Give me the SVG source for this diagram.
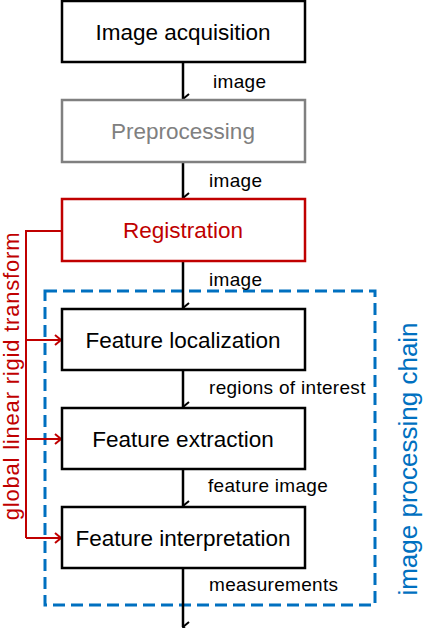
<svg xmlns="http://www.w3.org/2000/svg" width="424" height="628" viewBox="0 0 424 628">
<defs>
<style>
.box{fill:#fff;stroke-width:2.5}
.t{font-family:"Liberation Sans",Arial,sans-serif;font-size:22.5px;text-anchor:middle}
.l{font-family:"Liberation Sans",Arial,sans-serif;font-size:19px;letter-spacing:0.3px}
.k{stroke:#000;stroke-width:2.5;fill:none}
.r{stroke:#C00000;stroke-width:2;fill:none}
</style>
<marker id="ak" markerWidth="12" markerHeight="10" refX="6" refY="9" orient="auto" markerUnits="userSpaceOnUse" viewBox="0 0 12 10"><path d="M1,3 L6,9 L11,3" fill="none" stroke="#000" stroke-width="2"/></marker>
<marker id="ar" markerWidth="10" markerHeight="12" refX="9" refY="6" orient="auto" markerUnits="userSpaceOnUse" viewBox="0 0 10 12"><path d="M3,1 L9,6 L3,11" fill="none" stroke="#C00000" stroke-width="2"/></marker>
</defs>
<rect width="424" height="628" fill="#fff"/>
<g id="chain-frame"><rect x="45" y="291" width="330" height="314" fill="none" stroke="#0070C0" stroke-width="3" stroke-dasharray="12,6"/></g>
<g id="connectors">
<line class="k" x1="183" y1="62" x2="183" y2="99" marker-end="url(#ak)"/>
<line class="k" x1="183" y1="162" x2="183" y2="198" marker-end="url(#ak)"/>
<line class="k" x1="183" y1="261" x2="183" y2="308" marker-end="url(#ak)"/>
<line class="k" x1="183" y1="370" x2="183" y2="407" marker-end="url(#ak)"/>
<line class="k" x1="183" y1="469" x2="183" y2="506" marker-end="url(#ak)"/>
<line class="k" x1="183" y1="568" x2="183" y2="627" marker-end="url(#ak)"/>
<polyline class="r" points="62,231 26,231 26,538"/>
<line class="r" x1="26" y1="340" x2="61" y2="340" marker-end="url(#ar)"/>
<line class="r" x1="26" y1="439" x2="61" y2="439" marker-end="url(#ar)"/>
<line class="r" x1="26" y1="538" x2="61" y2="538" marker-end="url(#ar)"/>
<text class="l" x="213" y="88">image</text>
<text class="l" x="209" y="187">image</text>
<text class="l" x="209" y="286">image</text>
<text class="l" x="209" y="394">regions of interest</text>
<text class="l" x="208" y="492">feature image</text>
<text class="l" x="209" y="591">measurements</text>
</g>
<g id="acquisition"><rect class="box" x="62" y="1" width="243" height="61" stroke="#000"/><text class="t" x="183" y="40">Image acquisition</text></g>
<g id="preprocessing"><rect class="box" x="62" y="100" width="243" height="62" stroke="#808080"/><text class="t" x="183" y="139" fill="#808080">Preprocessing</text></g>
<g id="registration"><rect class="box" x="62" y="199" width="243" height="62" stroke="#C00000"/><text class="t" x="183" y="238" fill="#C00000">Registration</text></g>
<g id="localization"><rect class="box" x="62" y="309" width="243" height="61" stroke="#000"/><text class="t" x="183" y="348">Feature localization</text></g>
<g id="extraction"><rect class="box" x="62" y="408" width="243" height="61" stroke="#000"/><text class="t" x="183" y="447">Feature extraction</text></g>
<g id="interpretation"><rect class="box" x="62" y="507" width="243" height="61" stroke="#000"/><text class="t" x="183" y="546">Feature interpretation</text></g>
<text transform="translate(19,376) rotate(-90)" font-family="Liberation Sans,Arial,sans-serif" font-size="22" letter-spacing="0.8" fill="#C00000" text-anchor="middle">global linear rigid transform</text>
<text transform="translate(417,459) rotate(-90)" font-family="Liberation Sans,Arial,sans-serif" font-size="26" fill="#0070C0" text-anchor="middle">image processing chain</text>
</svg>
